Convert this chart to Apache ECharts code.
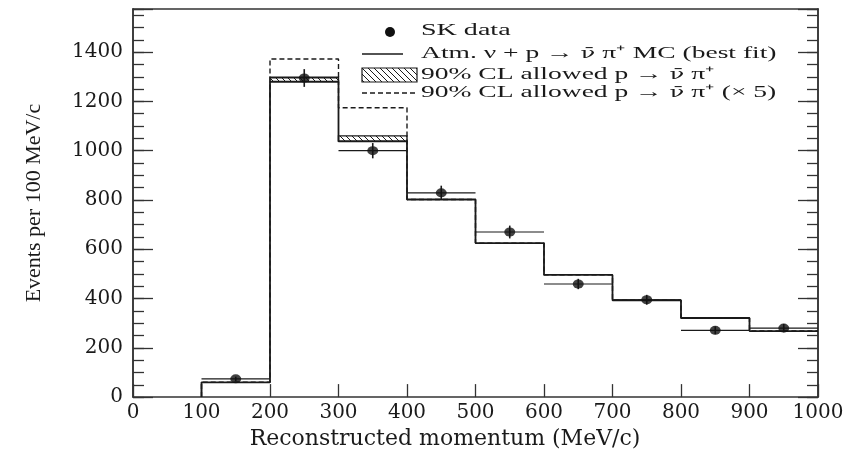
<!DOCTYPE html>
<html>
<head>
<meta charset="utf-8">
<title>Reconstructed momentum, SK p → ν̄ π⁺</title>
<script src="https://cdn.jsdelivr.net/npm/echarts@6/dist/echarts.min.js"></script>
<style>
html, body { margin: 0; padding: 0; background: #fff; }
#chart { width: 856px; height: 455px; }
</style>
</head>
<body>
<div id="chart"></div>
<script>
// histogram bins, 100 MeV/c wide (lower edges)
var binLow = [100, 200, 300, 400, 500, 600, 700, 800, 900];
var binWidth = 100;

// atm. nu MC, best fit
var mcFit = [60, 1280, 1038, 802, 625, 496, 393, 321, 268];
// MC + 90% CL allowed p -> nubar pi+
var mcPlusCl = [60, 1298, 1060, 802, 625, 496, 393, 321, 268];
// MC + 5 x 90% CL allowed
var mcPlusCl5 = [60, 1372, 1174, 802, 625, 496, 393, 321, 268];

// SK data points and errors
var skData = [74, 1295, 1000, 829, 670, 459, 395, 271, 280];
var skErr = [9, 36, 31, 29, 26, 21, 20, 16, 17];

// axis ranges / tick steps
var xMin = 0, xMax = 1000, xStep = 100;
var yMin = 0, yMax = 1575, yStep = 200, yMinorStep = 50;

var ink = '#1a1a1a';
var serif = 'Liberation Serif';

function stepData(vals) {
  var pts = [[binLow[0], 0]];
  vals.forEach(function (v, i) { pts.push([binLow[i], v]); });
  pts.push([binLow[binLow.length - 1] + binWidth, vals[vals.length - 1]]);
  return pts;
}

// hatch pattern for the 90% CL band
var hatch = document.createElement('canvas');
hatch.width = 6; hatch.height = 6;
var hc = hatch.getContext('2d');
hc.strokeStyle = ink; hc.lineWidth = 1;
hc.beginPath();
hc.moveTo(0, 0); hc.lineTo(6, 6);
hc.moveTo(-1, 5); hc.lineTo(1, 7);
hc.moveTo(5, -1); hc.lineTo(7, 1);
hc.stroke();
var hatchFill = { image: hatch, repeat: 'repeat' };

var dom = document.getElementById('chart');
var myChart = echarts.init(dom, null, { renderer: 'canvas' });

function yAx(pos, step, len, labels) {
  var ax = {
    type: 'value', position: pos, min: yMin, max: yMax, interval: step,
    axisLine: { show: true, onZero: false, lineStyle: { color: '#333', width: 1.5 } },
    axisTick: { show: true, inside: true, length: len, lineStyle: { color: '#333', width: 1.3 } },
    axisLabel: { show: false },
    splitLine: { show: false }
  };
  if (labels) {
    ax.axisLabel = {
      show: true, margin: 10, color: ink, fontFamily: 'DejaVu Serif', fontSize: 20,
      formatter: function (v) { return v % yStep === 0 ? String(v) : ''; }
    };
    ax.name = 'Events per 100 MeV/c';
    ax.nameLocation = 'middle';
    ax.nameRotate = 90;
    ax.nameGap = 88;
    ax.nameTextStyle = { color: ink, fontFamily: serif, fontSize: 22 };
  }
  return ax;
}

// legend text: nu-bar set in DejaVu Serif so the macron sits on the nu
var legendRich = {
  t: { fontFamily: serif, fontSize: 17, color: ink },
  nb: { fontFamily: 'DejaVu Serif', fontSize: 15, color: ink }
};
function legendText(x, y, str, sx) {
  return {
    type: 'text', x: x, y: y, scaleX: sx, z: 10,
    style: { text: str, fill: ink, fontFamily: serif, fontSize: 17, verticalAlign: 'middle', rich: legendRich }
  };
}

var option = {
  animation: false,
  backgroundColor: '#fff',
  grid: { left: 133, right: 38, top: 9, bottom: 50 },
  xAxis: [
    {
      type: 'value', min: xMin, max: xMax, interval: xStep, position: 'bottom',
      axisLine: { show: true, onZero: false, lineStyle: { color: '#333', width: 1.5 } },
      axisTick: { show: true, inside: true, length: 13, lineStyle: { color: '#333', width: 1.3 } },
      axisLabel: {
        margin: 6, color: ink, fontFamily: 'DejaVu Serif', fontSize: 20,
        formatter: function (v) { return String(v); }
      },
      splitLine: { show: false },
      name: 'Reconstructed momentum (MeV/c)',
      nameLocation: 'middle',
      nameGap: 27,
      nameTextStyle: { color: ink, fontFamily: 'DejaVu Serif', fontSize: 22, padding: [0, 61, 0, 0] }
    },
    {
      type: 'value', min: xMin, max: xMax, position: 'top',
      axisLine: { show: true, onZero: false, lineStyle: { color: '#333', width: 1.5 } },
      axisTick: { show: false }, axisLabel: { show: false }, splitLine: { show: false }
    }
  ],
  yAxis: [
    yAx('left', yStep, 20, true),
    yAx('left', yMinorStep, 11, false),
    yAx('right', yStep, 20, false),
    yAx('right', yMinorStep, 11, false)
  ],
  series: [
    {
      name: '90% CL allowed',
      type: 'custom',
      z: 3,
      data: binLow.map(function (lo, i) { return [lo, lo + binWidth, mcFit[i], mcPlusCl[i]]; }),
      renderItem: function (params, api) {
        var lo = api.value(0), hi = api.value(1), b = api.value(2), t = api.value(3);
        if (t <= b) return;
        var p0 = api.coord([lo, t]), p1 = api.coord([hi, b]);
        return {
          type: 'rect',
          shape: { x: p0[0], y: p0[1], width: p1[0] - p0[0], height: p1[1] - p0[1] },
          style: { fill: hatchFill, stroke: ink, lineWidth: 1.4 }
        };
      }
    },
    {
      name: 'MC best fit',
      type: 'line', step: 'end', showSymbol: false, z: 4,
      data: stepData(mcFit),
      lineStyle: { color: ink, width: 1.8 }
    },
    {
      name: '90% CL allowed x5',
      type: 'line', step: 'end', showSymbol: false, z: 5,
      data: stepData(mcPlusCl5),
      lineStyle: { color: ink, width: 1.4, type: [5, 3] }
    },
    {
      name: 'SK data errors',
      type: 'custom', z: 6,
      data: skData.map(function (v, i) { return [binLow[i] + binWidth / 2, v, skErr[i]]; }),
      renderItem: function (params, api) {
        var x = api.value(0), y = api.value(1), e = api.value(2);
        var l = api.coord([x - binWidth / 2, y]), r = api.coord([x + binWidth / 2, y]);
        var top = api.coord([x, y + e]), bot = api.coord([x, y - e]);
        return {
          type: 'group',
          children: [
            { type: 'line', shape: { x1: l[0], y1: l[1], x2: r[0], y2: r[1] }, style: { stroke: ink, lineWidth: 1.2 } },
            { type: 'line', shape: { x1: top[0], y1: top[1], x2: bot[0], y2: bot[1] }, style: { stroke: ink, lineWidth: 1.6 } }
          ]
        };
      }
    },
    {
      name: 'SK data',
      type: 'scatter', z: 7,
      symbol: 'circle', symbolSize: [11, 9],
      itemStyle: { color: '#111' },
      data: skData.map(function (v, i) { return [binLow[i] + binWidth / 2, v]; })
    }
  ],
  graphic: [
    { type: 'circle', shape: { cx: 390, cy: 32, r: 5 }, style: { fill: '#111' }, z: 10 },
    { type: 'line', shape: { x1: 362, y1: 54, x2: 403, y2: 54 }, style: { stroke: ink, lineWidth: 1.5 }, z: 10 },
    { type: 'rect', shape: { x: 362, y: 68, width: 55, height: 14 }, style: { fill: hatchFill, stroke: ink, lineWidth: 1.2 }, z: 10 },
    { type: 'line', shape: { x1: 362, y1: 93, x2: 417, y2: 93 }, style: { stroke: ink, lineWidth: 1.5, lineDash: [5, 3] }, z: 10 },
    legendText(421, 31, '{t|SK data}', 1.65),
    legendText(421, 54, '{t|Atm. ν + p → }{nb|ν\u0304}{t| π\u207A MC (best fit)}', 1.62),
    legendText(421, 75, '{t|90% CL allowed p → }{nb|ν\u0304}{t| π\u207A}', 1.62),
    legendText(421, 93, '{t|90% CL allowed p → }{nb|ν\u0304}{t| π\u207A (\u00D7 5)}', 1.62)
  ]
};

if (option && typeof option === 'object') {
  myChart.setOption(option, true);
}
</script>
</body>
</html>
